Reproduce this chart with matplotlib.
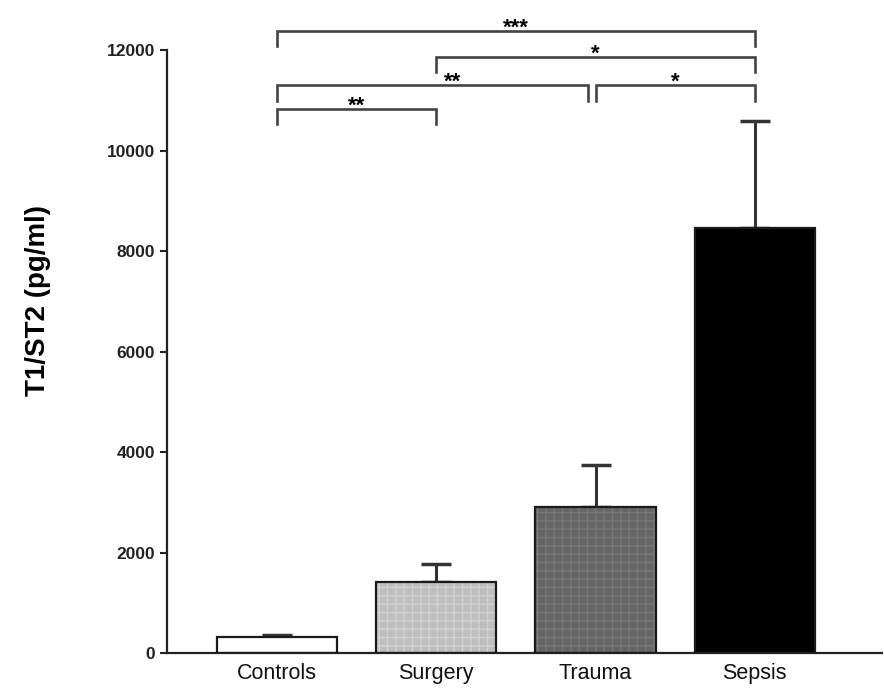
import numpy as np
import matplotlib.pyplot as plt

plt.rcParams['font.family'] = ['Liberation Sans', 'DejaVu Sans']

# ── Data ──────────────────────────────────────────────────────────────
categories = ['Controls', 'Surgery', 'Trauma', 'Sepsis']
means = [330, 1420, 2900, 8460]
sems = [40, 345, 845, 2130]

# significance comparisons (group a, group b, label, bracket height)
comp_a = [0, 1, 0, 2, 0]
comp_b = [3, 3, 2, 3, 1]
comp_label = ['***', '*', '**', '*', '**']
comp_level = [12380, 11860, 11300, 11300, 10830]

# ── Figure ────────────────────────────────────────────────────────────
fig = plt.figure(figsize=(8.84, 6.89), dpi=100)
ax = fig.add_axes([0.189, 0.052, 0.809, 0.875])

x = np.arange(len(categories))
fills = ['white', '#bebebe', '#666666', 'black']
hatch_cols = [None, '#d2d2d2', '#787878', None]

ax.errorbar(x, means, yerr=[np.zeros(len(sems)), sems], fmt='none',
            ecolor='#333333', elinewidth=2.2, capsize=10.5, capthick=2.5,
            zorder=1)

ax.bar(x, means, width=0.755, color=fills, edgecolor='none', zorder=2)
for xi, m, hc in zip(x, means, hatch_cols):
    if hc:
        ax.bar(xi, m, width=0.755, color='none', edgecolor=hc,
               hatch='++', linewidth=0, zorder=3)
ax.bar(x, means, width=0.755, color='none', edgecolor='#1a1a1a',
       linewidth=1.6, zorder=4)

# significance brackets
leg = 300
for a, b, lab, lev in zip(comp_a, comp_b, comp_label, comp_level):
    x1, x2 = x[a], x[b]
    if (a, b) == (0, 2):
        x2 -= 0.045
    tx = (x1 + x2) / 2
    if (a, b) == (0, 2):
        tx = x[1] + 0.1
    ax.plot([x1, x1, x2, x2], [lev - leg, lev, lev, lev - leg],
            color='#444444', lw=1.9, clip_on=False, solid_joinstyle='miter')
    ax.text(tx, lev + 60, lab, ha='center', va='center', fontsize=16,
            fontweight='bold', color='black', clip_on=False)

ax.set_xlim(-0.69, 3.80)
ax.set_ylim(0, 12000)
ax.set_yticks(np.arange(0, 12001, 2000))
ax.set_xticks(x)
ax.set_xticklabels(categories, fontsize=15.5, color='#111111')
ax.tick_params(axis='x', length=0, pad=7)
ax.tick_params(axis='y', length=5, width=1.5, direction='out', labelsize=12.5,
               color='#222222')
for lbl in ax.get_yticklabels():
    lbl.set_fontweight('bold')
    lbl.set_color('#222222')

ax.set_ylabel('T1/ST2 (pg/ml)', fontsize=20, fontweight='bold')
ax.yaxis.set_label_coords(-0.162, 0.585)

ax.spines[['top', 'right']].set_visible(False)
for s in ['left', 'bottom']:
    ax.spines[s].set_linewidth(1.6)
    ax.spines[s].set_color('#222222')

plt.savefig('out.png', dpi=100, facecolor='white')
